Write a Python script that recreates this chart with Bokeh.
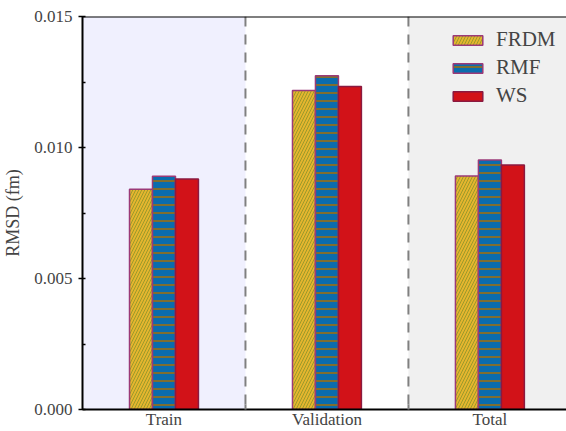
from bokeh.plotting import figure
from bokeh.models import (ColumnDataSource, FixedTicker, BoxAnnotation, Span, Legend,
                          LegendItem, NumeralTickFormatter, Range1d)
from bokeh.transform import dodge
from bokeh.embed import file_html
from bokeh.resources import INLINE

categories = ["Train", "Validation", "Total"]
cat_pos = [0, 1, 2]
frdm = [0.00841, 0.01218, 0.00891]
rmf = [0.00890, 0.01274, 0.00952]
ws = [0.00880, 0.01233, 0.00933]
y_ticks = [0.0, 0.005, 0.010, 0.015]
y_minor = [0.0025, 0.0075, 0.0125]
region_bounds = [0.5, 1.5]

FONT = "Liberation Serif"

src = ColumnDataSource(dict(x=cat_pos, frdm=frdm, rmf=rmf, ws=ws))

p = figure(width=566, height=431, output_backend="svg", toolbar_location=None,
           x_range=Range1d(-0.5, 2.47), y_range=Range1d(0, 0.015),
           min_border_left=0, min_border_right=0, min_border_top=16, min_border_bottom=0)
p.grid.visible = False
p.outline_line_color = None
p.background_fill_color = "white"
p.border_fill_color = "white"

# background regions
p.add_layout(BoxAnnotation(left=-0.5, right=0.5, fill_color="#F0F0FE", fill_alpha=1.0,
                           line_color=None, level="underlay"))
p.add_layout(BoxAnnotation(left=1.5, fill_color="#F0F0F0", fill_alpha=1.0,
                           line_color=None, level="underlay"))
for b in region_bounds:
    p.add_layout(Span(location=b, dimension="height", line_color="#808080",
                      line_width=2, line_dash="10 8"))
# top border of the frame
p.add_layout(Span(location=0.015, dimension="width", line_color="black", line_width=2))

w = 0.141
r1 = p.vbar(x=dodge("x", -w, range=p.x_range), top="frdm", width=w, source=src,
            fill_color="#E5B52E", line_color="#9B3A78", line_width=1.5,
            hatch_pattern="right_diagonal_line", hatch_color="#9A9A2A",
            hatch_weight=1, hatch_scale=6)
r2 = p.vbar(x=dodge("x", 0, range=p.x_range), top="rmf", width=w, source=src,
            fill_color="#0A6CAD", line_color="#9B3A78", line_width=1.5,
            hatch_pattern="horizontal_line", hatch_color="#7E6E30",
            hatch_weight=2, hatch_scale=8)
r3 = p.vbar(x=dodge("x", w, range=p.x_range), top="ws", width=w, source=src,
            fill_color="#D21218", line_color="#8A1A40", line_width=1.5)

# axes
xa = p.xaxis[0]
xa.ticker = FixedTicker(ticks=cat_pos, minor_ticks=region_bounds)
xa.major_label_overrides = {i: c for i, c in zip(cat_pos, categories)}
xa.major_tick_line_color = None
xa.major_tick_in = 0
xa.major_tick_out = 0
xa.minor_tick_in = 5
xa.minor_tick_out = 0
xa.minor_tick_line_color = "#808080"
xa.minor_tick_line_width = 2
xa.axis_line_width = 2
xa.major_label_text_font = FONT
xa.major_label_text_font_size = "17px"
xa.major_label_standoff = 0

ya = p.yaxis[0]
ya.ticker = FixedTicker(ticks=y_ticks, minor_ticks=y_minor)
ya.formatter = NumeralTickFormatter(format="0.000")
ya.axis_line_width = 2
ya.major_tick_in = 3
ya.major_tick_out = 4
ya.major_tick_line_width = 1.5
ya.minor_tick_in = 3
ya.minor_tick_out = 0
ya.minor_tick_line_width = 1.5
ya.major_label_text_font = FONT
ya.major_label_text_font_size = "17px"
ya.major_label_standoff = 6
ya.axis_label = "RMSD (fm)"
ya.axis_label_text_font = FONT
ya.axis_label_text_font_style = "normal"
ya.axis_label_text_font_size = "18px"
ya.axis_label_standoff = 8

legend = Legend(items=[LegendItem(label="FRDM", renderers=[r1]),
                       LegendItem(label="RMF", renderers=[r2]),
                       LegendItem(label="WS", renderers=[r3])],
                location=(367, 301), border_line_color=None, background_fill_alpha=0,
                padding=0, margin=0, spacing=3, glyph_width=37, glyph_height=12,
                label_height=22, label_standoff=10, label_text_font=FONT,
                label_text_font_size="21px")
p.add_layout(legend, "center")

open("out.html", "w").write(file_html(p, INLINE))
